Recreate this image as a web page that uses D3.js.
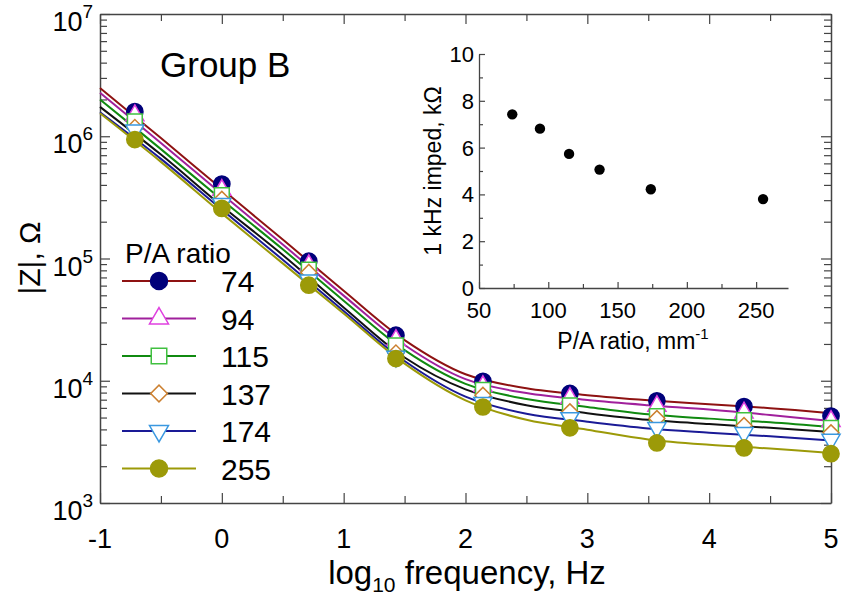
<!DOCTYPE html>
<html>
<head>
<meta charset="utf-8">
<script src="https://cdn.jsdelivr.net/npm/d3@7"></script>
<style>
  body { margin: 0; background: #fff; }
  svg { display: block; font-family: "Liberation Sans", Arial, sans-serif; }
</style>
</head>
<body>
<svg id="chart" width="843" height="600"></svg>
<script>
// ---------- DATA ----------
const seriesNames = ["74", "94", "115", "137", "174", "255"];
// log10 frequency of measured points
const markerX = [-0.714, 0, 0.714, 1.429, 2.143, 2.857, 3.571, 4.286, 5];
// measured |Z| (ohm) per P/A ratio
const z74  = [1.59e6, 4.06e5, 9.5e4, 2.36e4, 9.9e3, 7.87e3, 6.85e3, 6.15e3, 5.14e3];
const z94  = [1.48e6, 3.63e5, 8.8e4, 2.15e4, 9.0e3, 7.2e3, 6.2e3, 5.48e3, 4.67e3];
const z115 = [1.32e6, 3.3e5, 8.1e4, 1.95e4, 8.4e3, 6.3e3, 5.14e3, 4.77e3, 4.12e3];
const z137 = [1.18e6, 3.05e5, 7.7e4, 1.69e4, 7.6e3, 5.57e3, 4.9e3, 4.3e3, 3.75e3];
const z174 = [1.12e6, 2.8e5, 6.65e4, 1.58e4, 6.6e3, 4.97e3, 4.12e3, 3.75e3, 3.3e3];
const z255 = [0.94e6, 2.57e5, 6.05e4, 1.52e4, 6.1e3, 4.12e3, 3.1e3, 2.82e3, 2.53e3];
// fitted curves
const fitX = [-1, -0.5, 0, 0.5, 1, 1.5, 2, 2.5, 3, 3.5, 4, 4.5, 5];
const fit74  = [2.48e6, 9.66e5, 3.70e5, 1.43e5, 5.45e4, 2.15e4, 1.13e4, 8.69e3, 7.62e3, 6.93e3, 6.43e3, 5.97e3, 5.43e3];
const fit94  = [2.27e6, 8.81e5, 3.37e5, 1.30e5, 4.97e4, 1.96e4, 1.03e4, 7.93e3, 6.95e3, 6.31e3, 5.82e3, 5.25e3, 4.68e3];
const fit115 = [2.00e6, 7.85e5, 3.02e5, 1.19e5, 4.52e4, 1.78e4, 9.44e3, 7.08e3, 6.10e3, 5.31e3, 4.90e3, 4.57e3, 4.17e3];
const fit137 = [1.74e6, 7.08e5, 2.69e5, 1.07e5, 3.98e4, 1.55e4, 8.51e3, 6.31e3, 5.43e3, 4.79e3, 4.42e3, 4.12e3, 3.80e3];
const fit174 = [1.57e6, 6.53e5, 2.51e5, 9.77e4, 3.72e4, 1.45e4, 7.41e3, 5.37e3, 4.62e3, 4.07e3, 3.76e3, 3.51e3, 3.24e3];
const fit255 = [1.54e6, 6.17e5, 2.34e5, 9.12e4, 3.55e4, 1.38e4, 6.92e3, 4.79e3, 3.98e3, 3.31e3, 2.99e3, 2.79e3, 2.57e3];
// inset: 1 kHz impedance vs P/A ratio
const insetPA = [74, 94, 115, 137, 174, 255];
const insetZ  = [7.42, 6.81, 5.73, 5.06, 4.22, 3.80];
// tick values
const xTicks = [-1, 0, 1, 2, 3, 4, 5];
const xMinor = [-0.5, 0.5, 1.5, 2.5, 3.5, 4.5];
const yDecades = [1e3, 1e4, 1e5, 1e6, 1e7];
const insetXTicks = [50, 100, 150, 200, 250];
const insetXMinor = [75, 125, 175, 225];
const insetYTicks = [0, 2, 4, 6, 8, 10];
const insetYMinor = [1, 3, 5, 7, 9];

// ---------- STYLE ----------
const lineColors = ["#8e1212", "#a0209c", "#108a10", "#111111", "#1a1a96", "#9c9a08"];
const markerStroke = ["#00007a", "#e040e0", "#40c040", "#cc8030", "#3a98e0", "#9c9a08"];
const markerFill = ["#00007a", "#ffffff", "#ffffff", "#ffffff", "#ffffff", "#9c9a08"];
const markerType = ["circle", "tri", "square", "diamond", "tridown", "circle"];
const axisColor = "#444";

const svg = d3.select("#chart");
const L = 100, R = 831, T = 14, B = 503;
const x = d3.scaleLinear().domain([-1, 5]).range([L, R]);
const y = d3.scaleLog().domain([1e3, 1e7]).range([B, T]);

const zSeries = [z74, z94, z115, z137, z174, z255];
const fitSeries = [fit74, fit94, fit115, fit137, fit174, fit255];

// minor log ticks
const yMinor = [];
yDecades.slice(0, -1).forEach(d => { for (let k = 2; k <= 9; k++) yMinor.push(d * k); });

function styleAxis(g) {
  g.select(".domain").attr("stroke", axisColor).attr("stroke-width", 1.5);
  g.selectAll(".tick line").attr("stroke", axisColor).attr("stroke-width", 1.2);
}

// frame + ticks
const axes = [
  {gen: d3.axisBottom(x), tr: `translate(0,${B})`, major: xTicks, minor: xMinor},
  {gen: d3.axisTop(x), tr: `translate(0,${T})`, major: xTicks, minor: xMinor},
  {gen: d3.axisLeft(y), tr: `translate(${L},0)`, major: yDecades, minor: yMinor},
  {gen: d3.axisRight(y), tr: `translate(${R},0)`, major: yDecades, minor: yMinor}
];
axes.forEach(a => {
  svg.append("g").attr("transform", a.tr)
    .call(a.gen.tickValues(a.major).tickSizeInner(-10).tickSizeOuter(0).tickFormat(""))
    .call(styleAxis);
  svg.append("g").attr("transform", a.tr)
    .call(a.gen.tickValues(a.minor).tickSizeInner(-7).tickSizeOuter(0).tickFormat(""))
    .call(styleAxis).call(g => g.select(".domain").remove());
});

// x tick labels
svg.append("g").selectAll("text").data(xTicks).join("text")
  .attr("x", d => x(d)).attr("y", 548)
  .attr("text-anchor", "middle")
  .attr("font-size", 27)
  .text(d => d);

// y tick labels 10^n
const yl = svg.append("g").selectAll("text").data(yDecades).join("text")
  .attr("x", 93).attr("y", d => y(d) + 17)
  .attr("text-anchor", "end")
  .attr("font-size", 27);
yl.append("tspan").text("10");
yl.append("tspan").attr("dy", -13).attr("font-size", 19).text(d => Math.round(Math.log10(d)));

// axis titles
svg.append("text").attr("transform", "translate(40,258) rotate(-90)")
  .attr("text-anchor", "middle").attr("font-size", 30).text("|Z|, Ω");
const xt = svg.append("text").attr("x", 467).attr("y", 584)
  .attr("text-anchor", "middle").attr("font-size", 33);
xt.append("tspan").text("log");
xt.append("tspan").attr("font-size", 21).attr("dy", 8).text("10");
xt.append("tspan").attr("dy", -8).text(" frequency, Hz");

// Group B
svg.append("text").attr("x", 160).attr("y", 77).attr("font-size", 35).text("Group B");

// marker generator
function markerPath(type, size) {
  switch (type) {
    case "circle": return d3.symbol(d3.symbolCircle, size * 0.9)();
    case "tri": return d3.symbol(d3.symbolTriangle, size * 0.62)();
    case "square": return d3.symbol(d3.symbolSquare, size * 0.95)();
    case "diamond": return d3.symbol(d3.symbolSquare, size * 0.55)();
    case "tridown": return d3.symbol(d3.symbolTriangle, size * 0.62)();
  }
}
function markerRot(type) {
  return type === "diamond" ? 45 : (type === "tridown" ? 180 : 0);
}
const baseSize = 230;

// lines
const lineGen = d3.line().x(d => x(d[0])).y(d => y(d[1])).curve(d3.curveCatmullRom.alpha(0.5));
const plot = svg.append("g");
fitSeries.forEach((s, i) => {
  plot.append("path")
    .datum(fitX.map((fx, j) => [fx, s[j]]))
    .attr("d", lineGen)
    .attr("fill", "none").attr("stroke", lineColors[i]).attr("stroke-width", 2);
});
// markers
zSeries.forEach((s, i) => {
  plot.append("g").selectAll("path").data(markerX.map((mx, j) => [mx, s[j]])).join("path")
    .attr("transform", d => `translate(${x(d[0])},${y(d[1])}) rotate(${markerRot(markerType[i])})`)
    .attr("d", markerPath(markerType[i], baseSize))
    .attr("fill", markerFill[i]).attr("stroke", markerStroke[i]).attr("stroke-width", 1.5);
});

// legend
const lg = svg.append("g");
lg.append("text").attr("x", 125).attr("y", 263).attr("font-size", 28).text("P/A ratio");
seriesNames.forEach((n, i) => {
  const ry = 281 + i * 37.5;
  lg.append("line").attr("x1", 122).attr("x2", 196).attr("y1", ry).attr("y2", ry)
    .attr("stroke", lineColors[i]).attr("stroke-width", 2);
  lg.append("path").attr("transform", `translate(159,${ry}) rotate(${markerRot(markerType[i])})`)
    .attr("d", markerPath(markerType[i], baseSize * 1.1))
    .attr("fill", markerFill[i]).attr("stroke", markerStroke[i]).attr("stroke-width", 1.5);
  lg.append("text").attr("x", 221).attr("y", ry + 11).attr("font-size", 30).text(n);
});

// ---------- INSET ----------
const iL = 479, iR = 788, iT = 54, iB = 288;
const ix = d3.scaleLinear().domain([50, 273]).range([iL, iR]);
const iy = d3.scaleLinear().domain([0, 10]).range([iB, iT]);
const inset = svg.append("g");
inset.append("g").attr("transform", `translate(0,${iB})`)
  .call(d3.axisBottom(ix).tickValues(insetXTicks).tickSizeInner(-6).tickSizeOuter(0).tickFormat(""))
  .call(styleAxis);
inset.append("g").attr("transform", `translate(0,${iB})`)
  .call(d3.axisBottom(ix).tickValues(insetXMinor).tickSizeInner(-4).tickSizeOuter(0).tickFormat(""))
  .call(styleAxis).call(g => g.select(".domain").remove());
inset.append("g").attr("transform", `translate(${iL},0)`)
  .call(d3.axisLeft(iy).tickValues(insetYTicks).tickSizeInner(-6).tickSizeOuter(0).tickFormat(""))
  .call(styleAxis);
inset.append("g").attr("transform", `translate(${iL},0)`)
  .call(d3.axisLeft(iy).tickValues(insetYMinor).tickSizeInner(-4).tickSizeOuter(0).tickFormat(""))
  .call(styleAxis).call(g => g.select(".domain").remove());
inset.selectAll(".domain").attr("stroke-width", 1.3);

inset.append("g").selectAll("text").data(insetXTicks).join("text")
  .attr("x", d => ix(d)).attr("y", 318).attr("text-anchor", "middle")
  .attr("font-size", 22).text(d => d);
inset.append("g").selectAll("text").data(insetYTicks).join("text")
  .attr("x", 474).attr("y", d => iy(d) + 8).attr("text-anchor", "end")
  .attr("font-size", 22).text(d => d);

const ixt = inset.append("text").attr("x", 633).attr("y", 349).attr("text-anchor", "middle").attr("font-size", 23);
ixt.append("tspan").text("P/A ratio, mm");
ixt.append("tspan").attr("dy", -10).attr("font-size", 15).text("-1");
inset.append("text").attr("transform", "translate(441,171) rotate(-90)")
  .attr("text-anchor", "middle").attr("font-size", 23).text("1 kHz imped, kΩ");

inset.append("g").selectAll("circle").data(insetPA.map((p, i) => [p, insetZ[i]])).join("circle")
  .attr("cx", d => ix(d[0])).attr("cy", d => iy(d[1])).attr("r", 5.2).attr("fill", "#000");
</script>
</body>
</html>
